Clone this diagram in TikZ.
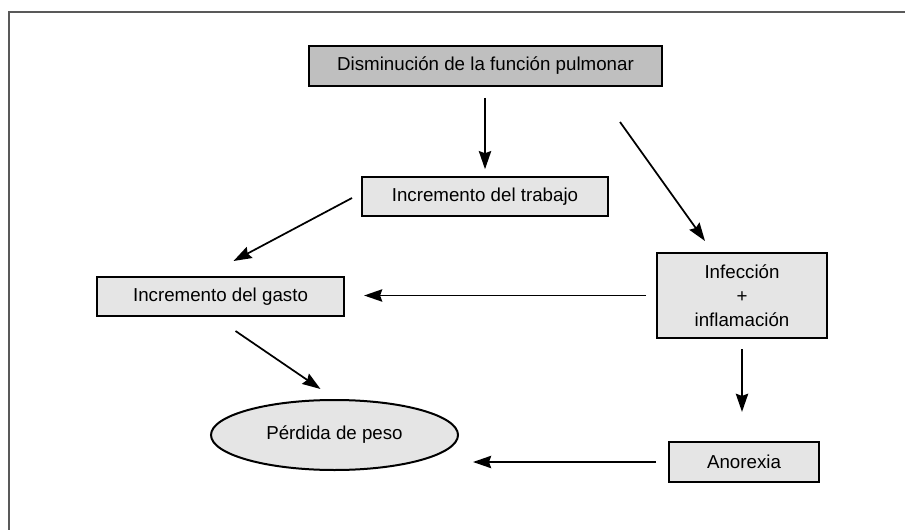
\documentclass[tikz,border=0pt]{standalone}
\usepackage{fontspec}
\setmainfont{Liberation Sans}
\usetikzlibrary{calc,arrows.meta,positioning,shapes.geometric}
\tikzset{
  box/.style={draw=black, line width=1.1pt, align=center, fill=black!10,
    inner sep=2pt, font=\fontsize{10.3}{13.2}\selectfont},
  topbox/.style={box, fill=black!25},
  oval/.style={box, ellipse},
  arr/.style={-{Stealth[length=10pt,width=6.8pt,inset=1.2pt]}, line width=0.95pt},
  frameline/.style={draw=black!65, line width=0.7pt}
}
\begin{document}
\begin{tikzpicture}[x=0.55pt, y=-0.55pt]
  \useasboundingbox (0,0) rectangle (905,530);
  \draw[frameline] (905,12) -- (9,12) -- (9,530);

  \node[topbox, minimum width=194.15pt, minimum height=22pt] (pulmonar) at (485.5,66) {Disminución de la función pulmonar};
  \node[box, minimum width=135.3pt, minimum height=21.45pt] (trabajo) at (485,197) {Incremento del trabajo};
  \node[box, minimum width=93.5pt, minimum height=46.75pt] (infeccion) at (742,295.5) {Infección\\+\\inflamación};
  \node[box, minimum width=135.85pt, minimum height=21.45pt] (gasto) at (220.5,296.5) {Incremento del gasto};
  \node[oval, minimum width=135.85pt, minimum height=38.5pt] (perdida) at (334.5,435) {Pérdida de peso};
  \node[box, minimum width=82.5pt, minimum height=22pt] (anorexia) at (744,462) {Anorexia};

  \draw[arr, shorten <=6pt, shorten >=4pt] (trabajo.north |- pulmonar.south) -- (trabajo.north);
  \draw[arr] ([shift={(-43,35)}]pulmonar.south east) -- ([shift={(-37,-11)}]infeccion.north);
  \draw[arr] ([shift={(-9,1)}]trabajo.west) -- ([shift={(13,-15)}]gasto.north);
  \draw[arr, shorten <=5.5pt, shorten >=10.5pt] (infeccion.west) -- (infeccion.west -| gasto.east);
  \draw[arr] ([shift={(15,14)}]gasto.south) -- ([shift={(-14,-10)}]perdida.north);
  \draw[arr, shorten <=5.5pt, shorten >=16pt] (infeccion.south) -- (infeccion.south |- anorexia.north);
  \draw[arr, shorten <=6.6pt, shorten >=7.7pt] (anorexia.west) -- (anorexia.west -| perdida.east);
\end{tikzpicture}
\end{document}
